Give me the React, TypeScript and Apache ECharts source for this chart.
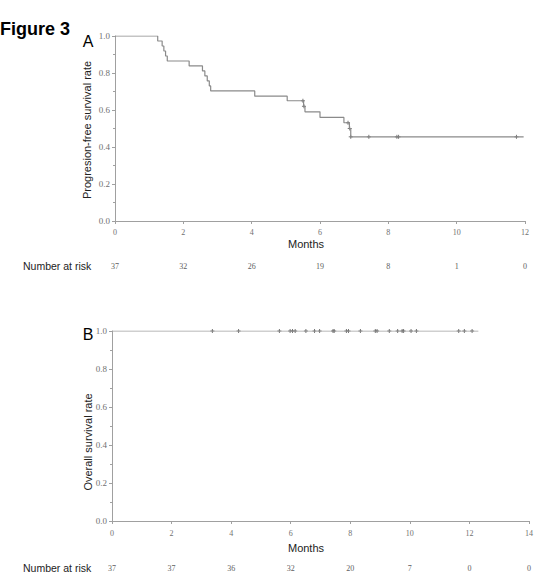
import React, { useEffect, useRef } from 'react';
import * as echarts from 'echarts';

// panel A: progression-free survival (Kaplan-Meier steps)
const pfsTimes = [0, 1.25, 1.38, 1.43, 1.48, 1.53, 2.17, 2.56, 2.63, 2.7, 2.76, 2.8, 4.09, 5.04, 5.52, 5.56, 6.0, 6.7, 6.86, 6.9, 11.96];
const pfsRates = [1, 0.973, 0.946, 0.919, 0.892, 0.865, 0.838, 0.811, 0.784, 0.757, 0.73, 0.703, 0.675, 0.65, 0.62, 0.59, 0.56, 0.531, 0.5, 0.455, 0.455];
const pfsCensorTimes = [5.5, 5.53, 6.82, 6.87, 6.9, 7.43, 8.25, 8.3, 11.75];
const pfsCensorRates = [0.65, 0.62, 0.531, 0.5, 0.455, 0.455, 0.455, 0.455, 0.455];
const pfsAtRisk = [37, 32, 26, 19, 8, 1, 0];

// panel B: overall survival
const osTimes = [0, 12.3];
const osRates = [1, 1];
const osCensorTimes = [3.37, 4.25, 5.62, 5.98, 6.06, 6.15, 6.51, 6.8, 6.97, 7.42, 7.46, 7.87, 7.94, 8.34, 8.84, 8.9, 9.31, 9.59, 9.74, 9.79, 10.04, 10.22, 11.64, 11.83, 12.09];
const osAtRisk = [37, 37, 36, 32, 20, 7, 0, 0];

const sans = "'Liberation Sans', Arial, sans-serif";
const serif = "'Liberation Serif', 'DejaVu Serif', serif";
const axisGray = '#a0a0a0';
const tickFont = { fontFamily: serif, fontSize: 9, color: '#707070' };
const plus = 'path://M0,4L8,4M4,0L4,8';

const mainX = (grid: number, max: number, margin: number) => ({
  type: 'value',
  gridIndex: grid,
  min: 0,
  max: max,
  interval: 2,
  splitLine: { show: false },
  axisLine: { lineStyle: { color: axisGray, width: 1 } },
  axisTick: { length: 3, lineStyle: { color: axisGray } },
  axisLabel: { ...tickFont, fontSize: 8, margin: margin },
});

const riskX = (grid: number, max: number, offset: number, counts: number[]) => ({
  type: 'value',
  gridIndex: grid,
  min: 0,
  max: max,
  interval: 2,
  position: 'bottom',
  offset: offset,
  splitLine: { show: false },
  axisLine: { show: false },
  axisTick: { show: false },
  axisLabel: {
    ...tickFont,
    fontSize: 8,
    color: '#606060',
    margin: 0,
    formatter: (v: number) => String(counts[Math.round(v / 2)] ?? ''),
  },
});

const mainY = (grid: number) => ({
  type: 'value',
  gridIndex: grid,
  min: 0,
  max: 1,
  interval: 0.2,
  splitLine: { show: false },
  axisLine: { show: true, lineStyle: { color: axisGray, width: 1 } },
  axisTick: { show: true, length: 3, lineStyle: { color: axisGray } },
  minorTick: { show: true, splitNumber: 2, length: 2, lineStyle: { color: axisGray } },
  axisLabel: { ...tickFont, margin: 5, formatter: (v: number) => v.toFixed(1) },
});

const App = () => {
  const chartRef = useRef<HTMLDivElement>(null);

  useEffect(() => {
    const chart = echarts.init(chartRef.current, null, { renderer: 'svg' });
    const label = (text: string, x: number, y: number, size: number, extra: any = {}) => ({
      type: 'text',
      x,
      y,
      style: { text, fontFamily: sans, fontSize: size, fill: '#222', align: 'center', verticalAlign: 'middle', ...extra },
    });

    chart.setOption({
      animation: false,
      grid: [
        { left: 115, top: 36, width: 410, height: 185 },
        { left: 112, top: 331, width: 417, height: 190 },
      ],
      xAxis: [
        mainX(0, 12, 7),
        riskX(0, 12, 41, pfsAtRisk),
        mainX(1, 14, 8),
        riskX(1, 14, 43, osAtRisk),
      ],
      yAxis: [mainY(0), mainY(1)],
      series: [
        {
          type: 'line',
          xAxisIndex: 0,
          yAxisIndex: 0,
          step: 'end',
          symbol: 'none',
          lineStyle: { color: '#8a8a8a', width: 1.2 },
          data: pfsTimes.map((t, i) => [t, pfsRates[i]]),
        },
        {
          type: 'scatter',
          xAxisIndex: 0,
          yAxisIndex: 0,
          symbol: plus,
          symbolSize: 4,
          itemStyle: { color: 'rgba(0,0,0,0)', borderColor: '#555', borderWidth: 1 },
          data: pfsCensorTimes.map((t, i) => [t, pfsCensorRates[i]]),
        },
        {
          type: 'line',
          xAxisIndex: 2,
          yAxisIndex: 1,
          step: 'end',
          symbol: 'none',
          lineStyle: { color: '#a0a0a0', width: 1.2 },
          data: osTimes.map((t, i) => [t, osRates[i]]),
        },
        {
          type: 'scatter',
          xAxisIndex: 2,
          yAxisIndex: 1,
          symbol: plus,
          symbolSize: 4,
          itemStyle: { color: 'rgba(0,0,0,0)', borderColor: '#555', borderWidth: 1 },
          data: osCensorTimes.map((t) => [t, 1]),
        },
      ],
      graphic: [
        label('Figure 3', 0, 29, 18, {
          fontFamily: "'Liberation Sans Narrow', 'Liberation Sans', Arial, sans-serif",
          fontWeight: 'bold',
          align: 'left',
          fill: '#000',
        }),
        label('A', 88, 41, 16, { fill: '#000' }),
        label('B', 88, 334, 16, { fill: '#000' }),
        { ...label('Progresion-free survival rate', 87, 130, 11), rotation: Math.PI / 2 },
        { ...label('Overall survival rate', 88, 442, 11), rotation: Math.PI / 2 },
        label('Months', 306, 244, 11),
        label('Months', 306, 548, 11),
        label('Number at risk', 23, 266, 10.5, { align: 'left' }),
        label('Number at risk', 23, 568, 10.5, { align: 'left' }),
      ],
    });

    return () => {
      chart.dispose();
    };
  }, []);

  return (
    <div
      ref={chartRef}
      style={{ position: 'absolute', left: 0, top: 0, width: 554, height: 584, background: '#fff' }}
    />
  );
};

export default App;
